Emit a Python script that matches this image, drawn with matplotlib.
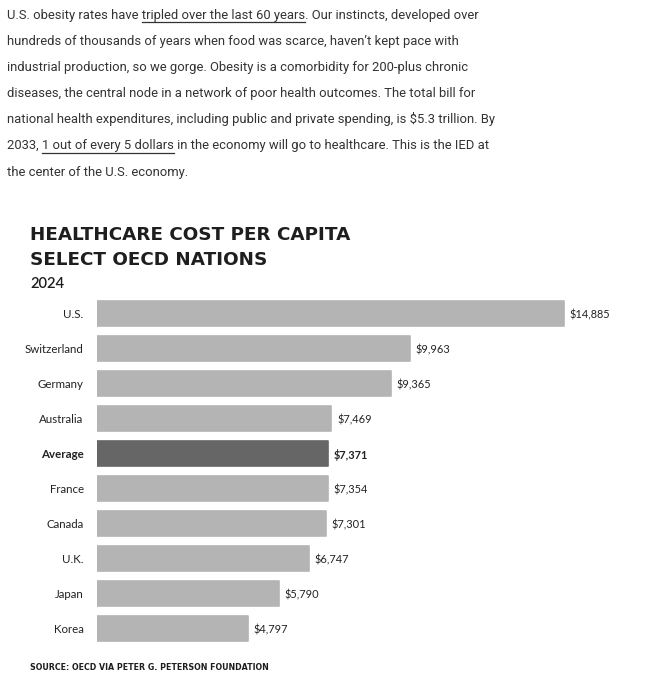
import matplotlib
matplotlib.use("Agg")
import matplotlib.pyplot as plt
from matplotlib.transforms import Affine2D
from matplotlib.lines import Line2D

# ---------------- data ----------------
countries = ["U.S.", "Switzerland", "Germany", "Australia", "Average",
             "France", "Canada", "U.K.", "Japan", "Korea"]
costs = [14885, 9963, 9365, 7469, 7371, 7354, 7301, 6747, 5790, 4797]
highlight = "Average"

title_lines = ["HEALTHCARE COST PER CAPITA", "SELECT OECD NATIONS"]
subtitle = "2024"
source = "SOURCE: OECD VIA PETER G. PETERSON FOUNDATION"

para_lines = [
    "U.S. obesity rates have tripled over the last 60 years. Our instincts, developed over",
    "hundreds of thousands of years when food was scarce, haven\u2019t kept pace with",
    "industrial production, so we gorge. Obesity is a comorbidity for 200-plus chronic",
    "diseases, the central node in a network of poor health outcomes. The total bill for",
    "national health expenditures, including public and private spending, is $5.3 trillion. By",
    "2033, 1 out of every 5 dollars in the economy will go to healthcare. This is the IED at",
    "the center of the U.S. economy.",
]
underlined = {0: "tripled over the last 60 years", 5: "1 out of every 5 dollars"}

# ---------------- figure ----------------
W, H, DPI = 656, 680, 100
fig = plt.figure(figsize=(W / DPI, H / DPI), dpi=DPI)
fig.patch.set_facecolor("white")
renderer = fig.canvas.get_renderer()

# pixel transform (origin top-left)
pix = Affine2D().scale(1, -1).translate(0, H)

def text_width(s, **kw):
    t = fig.text(0, 0, s, transform=pix, **kw)
    w = t.get_window_extent(renderer).width
    t.remove()
    return w

def fit_size(s, target, **kw):
    w = text_width(s, fontsize=10, **kw)
    return 10 * target / w

# ---------------- paragraph ----------------
para_font = dict(family=["Roboto", "DejaVu Sans"])
para_color = "#333333"
pfs = fit_size(para_lines[4], 489, **para_font)
x0 = 7
for i, line in enumerate(para_lines):
    yb = 18.5 + 26.2 * i
    fig.text(x0, yb, line, transform=pix, fontsize=pfs, color=para_color,
             va="baseline", ha="left", **para_font)
    if i in underlined:
        u = underlined[i]
        idx = line.index(u)
        full = line[:idx + len(u)]
        w_full = text_width(full, fontsize=pfs, **para_font)
        w_u = text_width(u, fontsize=pfs, **para_font)
        xs = x0 + w_full - w_u
        xe = x0 + w_full
        fig.add_artist(Line2D([xs, xe], [yb + 3, yb + 3], transform=pix,
                              color=para_color, lw=0.9))

# ---------------- title ----------------
title_font = dict(family=["DejaVu Sans"], weight="bold")
tfs = fit_size(title_lines[0], 322, **title_font)
fig.text(30, 239.5, title_lines[0], transform=pix, fontsize=tfs, color="#1e1e1e",
         va="baseline", ha="left", **title_font)
fig.text(30, 265, title_lines[1], transform=pix, fontsize=tfs, color="#1e1e1e",
         va="baseline", ha="left", **title_font)
sub_font = dict(family=["Lato"], weight="semibold")
fig.text(30, 288.3, subtitle, transform=pix, fontsize=fit_size(subtitle, 34, **sub_font),
         color="#1e1e1e", va="baseline", ha="left", **sub_font)

sfs = fit_size(source, 239, **title_font)
fig.text(30, 670, source, transform=pix, fontsize=sfs, color="#1e1e1e",
         va="baseline", ha="left", **title_font)

# ---------------- bars ----------------
px_per_unit = 467.3 / 14885
ax_left, ax_right = 97, 646
ax_top, ax_bot = 296, 646
ax = fig.add_axes([ax_left / W, 1 - ax_bot / H, (ax_right - ax_left) / W, (ax_bot - ax_top) / H])
ax.set_xlim(0, (ax_right - ax_left) / px_per_unit)
n = len(countries)
ax.set_ylim(n - 0.5, -0.5)

colors = ["#666666" if c == highlight else "#b4b4b4" for c in countries]
bars = ax.barh(range(n), costs, height=25 / 35, color=colors, edgecolor=colors,
               linewidth=1.2, joinstyle="round")

for spine in ax.spines.values():
    spine.set_visible(False)
ax.set_xticks([])
ax.set_yticks(range(n))
lab_font = ["Lato", "DejaVu Sans"]
ax.set_yticklabels(countries, fontsize=8.3, family=lab_font, color="#222222")
ax.tick_params(axis="y", length=0, pad=9.6)
for lbl in ax.get_yticklabels():
    if lbl.get_text() == highlight:
        lbl.set_fontweight("bold")

for i, (c, v) in enumerate(zip(countries, costs)):
    ax.annotate(f"${v:,}", xy=(v, i), xytext=(4.0, -0.8), textcoords="offset points",
                va="center", ha="left", fontsize=7.9, family=lab_font,
                color="#222222", fontweight="bold" if c == highlight else "normal")

fig.savefig("out.png", dpi=DPI, facecolor="white")
